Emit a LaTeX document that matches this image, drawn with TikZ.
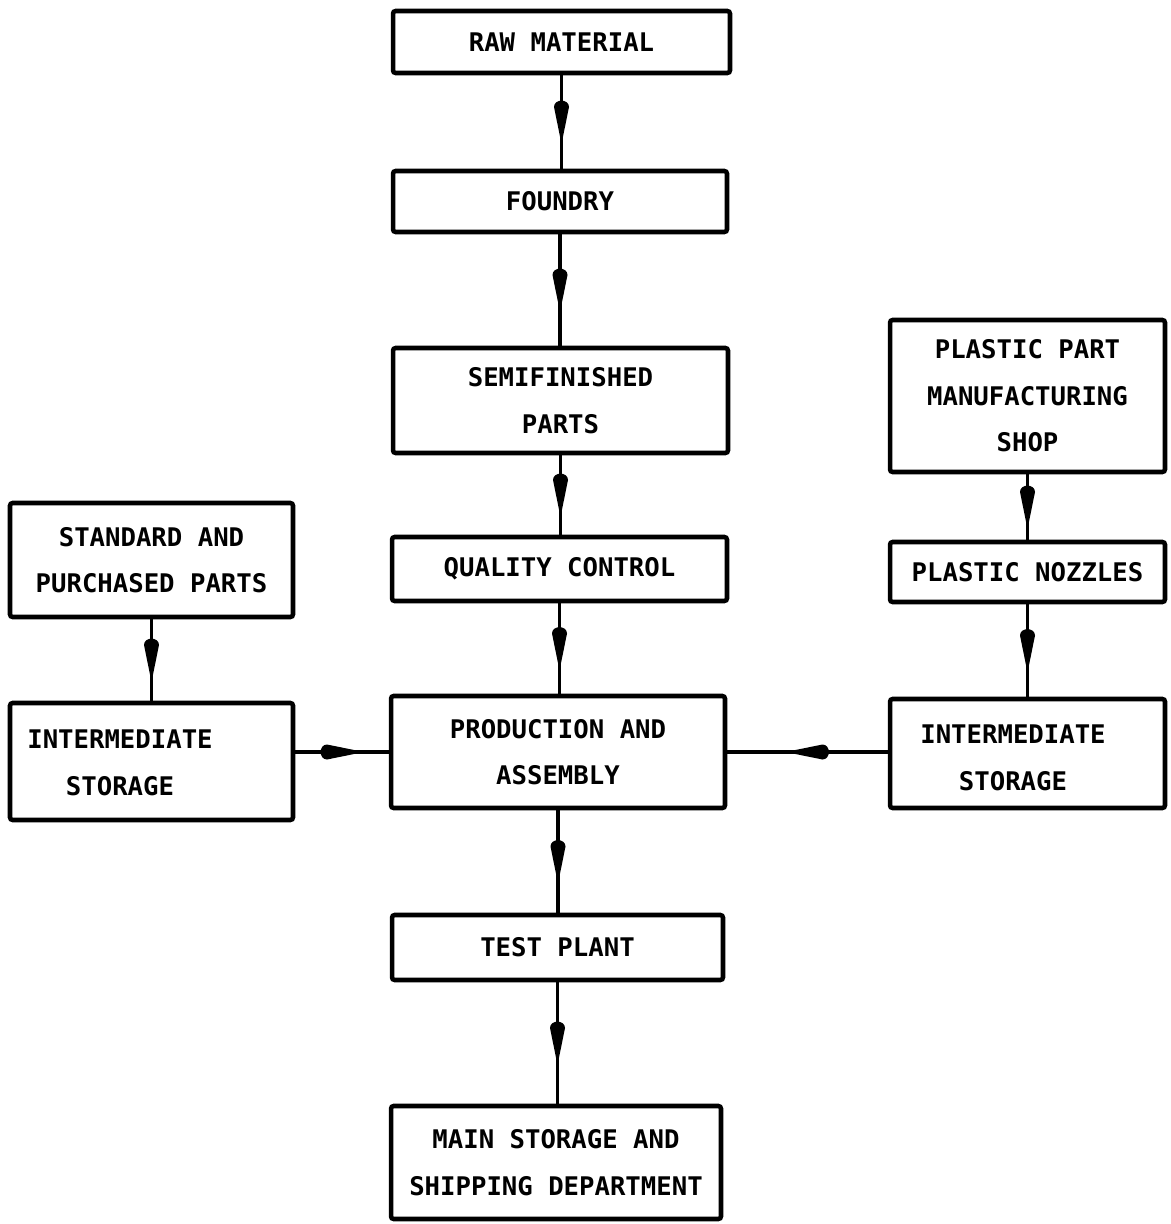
\documentclass[tikz,border=0pt]{standalone}
\usepackage{fontspec}
\setmonofont{DejaVu Sans Mono}
\usetikzlibrary{decorations.markings}
\newcommand\boxfont{\ttfamily\bfseries\fontsize{14.6}{26.4}\selectfont}
\tikzset{
  box/.style={draw, line width=2.6pt, rounded corners=1.5pt, inner sep=0pt,
              align=center, font=\boxfont},
  boxtext/.style={inner sep=0pt, align=center, font=\boxfont},
  % connector with a long narrow arrowhead sitting half-way along the line
  flow/.style={line width=2.2pt,
    decoration={markings, mark=at position 0.5 with {
      \fill (0.44cm,0) -- (-0.30cm,0.15cm)
        .. controls (-0.47cm,0.15cm) and (-0.47cm,-0.15cm) .. (-0.30cm,-0.15cm)
        -- cycle;}},
    postaction={decorate}},
}
\begin{document}
\begin{tikzpicture}[x=0.02cm, y=-0.02cm]
\useasboundingbox (0,0) rectangle (1170,1224);

% main column
\node[box, minimum width=6.74cm, minimum height=1.24cm] (raw) at (561.5,42) {RAW MATERIAL};
\node[box, minimum width=6.68cm, minimum height=1.22cm] (foundry) at (560,201.5) {FOUNDRY};
\node[box, minimum width=6.70cm, minimum height=2.10cm] (semi) at (560.5,400.5) {SEMIFINISHED\\PARTS};
\node[box, minimum width=6.70cm, minimum height=1.28cm] (qc) at (559.5,569) {QUALITY CONTROL};
\node[box, minimum width=6.68cm, minimum height=2.24cm] (prod) at (558,752) {PRODUCTION AND\\ASSEMBLY};
\node[box, minimum width=6.62cm, minimum height=1.30cm] (test) at (557.5,947.5) {TEST PLANT};
\node[box, minimum width=6.60cm, minimum height=2.26cm] (main) at (556,1162.5) {MAIN STORAGE AND\\SHIPPING DEPARTMENT};

% left column
\node[box, minimum width=5.66cm, minimum height=2.28cm] (std) at (151.5,560) {STANDARD AND\\PURCHASED PARTS};
\node[box, minimum width=5.66cm, minimum height=2.34cm] (intL) at (151.5,761.5) {};
\node[boxtext] (intLtext) at (120,763) {INTERMEDIATE\\STORAGE};

% right column
\node[box, minimum width=5.50cm, minimum height=3.04cm] (plas) at (1027.5,396) {PLASTIC PART\\MANUFACTURING\\SHOP};
\node[box, minimum width=5.50cm, minimum height=1.20cm] (noz) at (1027.5,572) {PLASTIC NOZZLES};
\node[box, minimum width=5.50cm, minimum height=2.18cm] (intR) at (1027.5,753.5) {};
\node[boxtext] (intRtext) at (1013,758) {INTERMEDIATE\\STORAGE};

% connectors
\draw[flow] (raw.south) -- (raw.south |- foundry.north);
\draw[flow] (foundry.south) -- (foundry.south |- semi.north);
\draw[flow] (semi.south) -- (semi.south |- qc.north);
\draw[flow] (qc.south) -- (qc.south |- prod.north);
\draw[flow] (prod.south) -- (prod.south |- test.north);
\draw[flow] (test.south) -- (test.south |- main.north);
\draw[flow] (std.south) -- (std.south |- intL.north);
\draw[flow] (plas.south) -- (plas.south |- noz.north);
\draw[flow] (noz.south) -- (noz.south |- intR.north);
\draw[flow] (prod.west -| intL.east) -- (prod.west);
\draw[flow] (prod.east -| intR.west) -- (prod.east);
\end{tikzpicture}
\end{document}
